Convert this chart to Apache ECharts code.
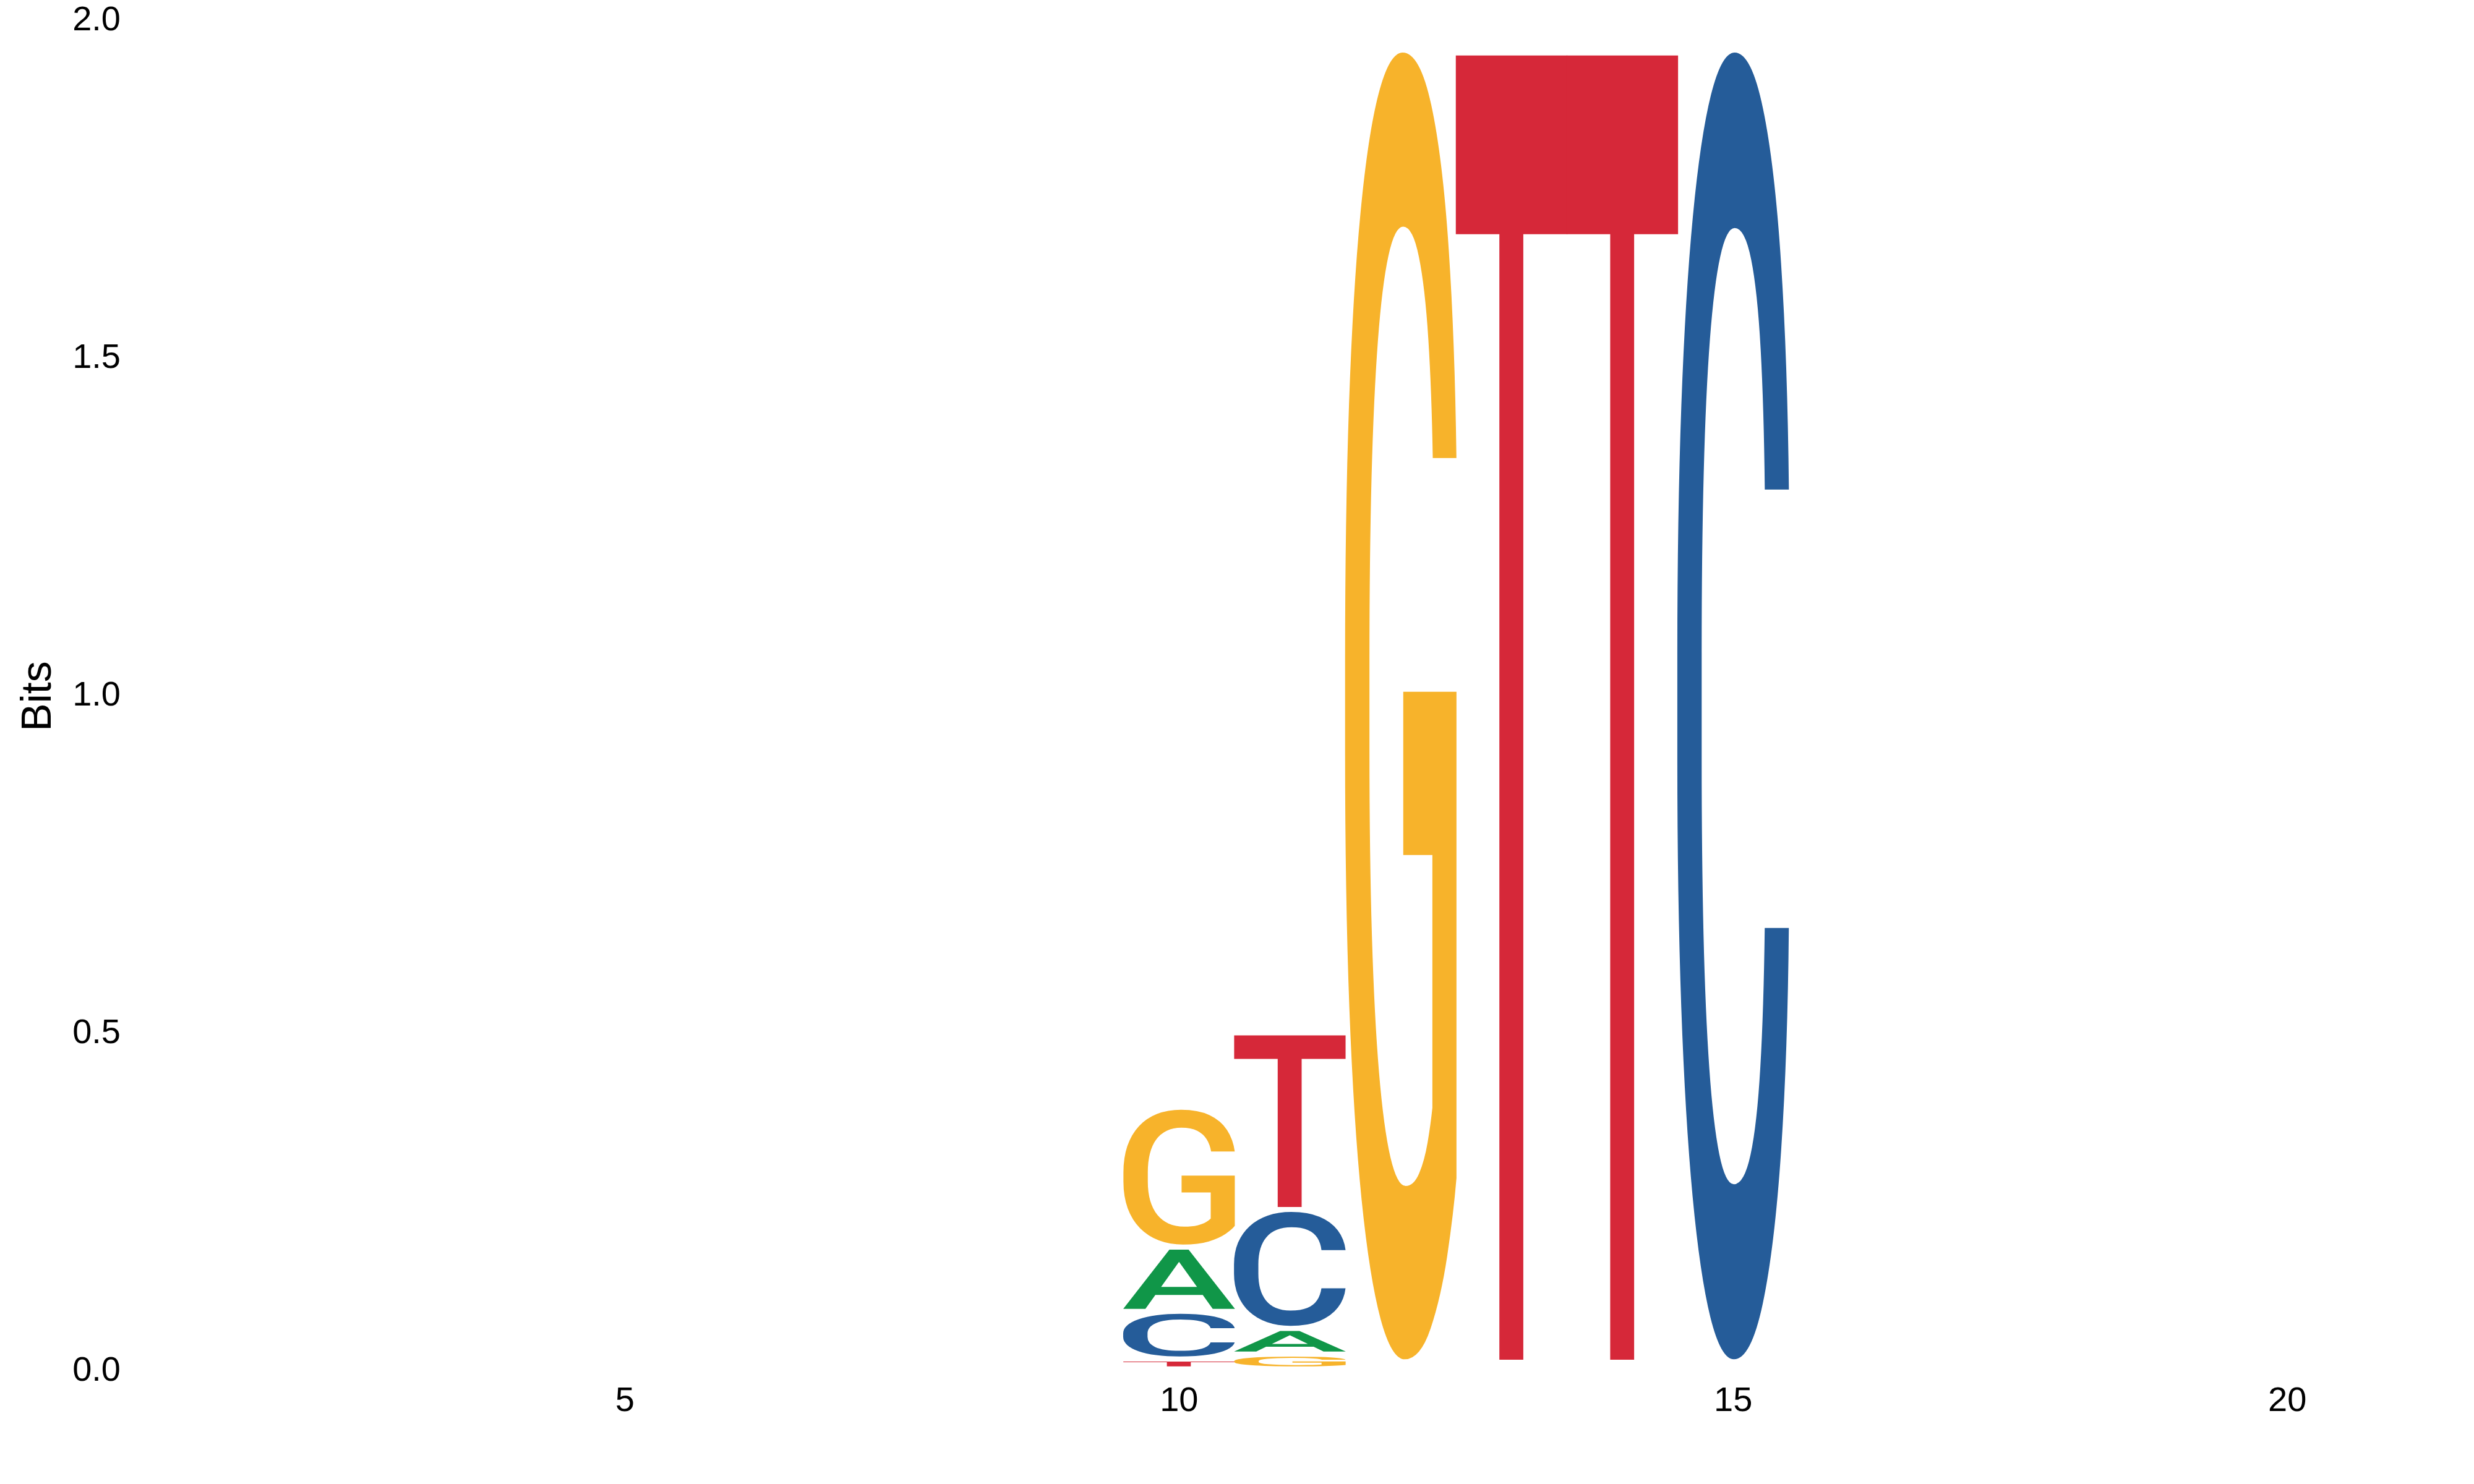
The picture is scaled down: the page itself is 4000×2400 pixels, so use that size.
<!DOCTYPE html>
<html>
<head>
<meta charset="utf-8">
<script src="https://cdn.jsdelivr.net/npm/echarts@6/dist/echarts.min.js"></script>
<style>
  html, body { margin: 0; background: #ffffff; }
  #logo { width: 4000px; height: 2400px; }
</style>
</head>
<body>
<div id="logo"></div>
<script>
// information content (bits) per base, one entry per position
var positions = [10, 11, 12, 13, 14, 15];
var bitsA = [0.0952, 0.038, 0.0033, 0.0033, 0.0033, 0.0033];
var bitsC = [0.0705, 0.176, 0.0033, 0.0033, 0.0033, 1.941];
var bitsG = [0.207, 0.022, 1.941, 0.0033, 0.0033, 0.0033];
var bitsT = [0.0147, 0.262, 0.0033, 1.941, 1.941, 0.0033];
var xTicks = [5, 10, 15, 20];

var bases = ['A', 'C', 'G', 'T'];
var baseColors = ['#109648', '#255C99', '#F7B32B', '#D62839'];
var glyphSize = 600;
var glyphFont = '500 ' + glyphSize + 'px Roboto';
var letterGap = 0.0075; // small white space under each letter, in bits

// ink box of each glyph (found from its pixels), so it can be stretched to fill its cell
function inkBox(ch) {
  var w = glyphSize * 2, h = glyphSize * 2, ox = glyphSize / 2, oy = glyphSize;
  var cv = document.createElement('canvas');
  cv.width = w; cv.height = h;
  var ctx = cv.getContext('2d');
  ctx.font = glyphFont;
  ctx.textAlign = 'left';
  ctx.textBaseline = 'middle';
  ctx.fillStyle = '#000';
  ctx.fillText(ch, ox, oy);
  var px = ctx.getImageData(0, 0, w, h).data;
  var minX = w, maxX = -1, minY = h, maxY = -1;
  for (var y = 0; y < h; y++) {
    for (var x = 0; x < w; x++) {
      if (px[(y * w + x) * 4 + 3] > 127) {
        if (x < minX) minX = x;
        if (x > maxX) maxX = x;
        if (y < minY) minY = y;
        if (y > maxY) maxY = y;
      }
    }
  }
  return { l: ox - minX, r: maxX + 1 - ox, a: oy - minY, d: maxY + 1 - oy };
}
var inkBoxes = bases.map(inkBox);

// stack letters per position, smallest at the bottom
var letters = [];
positions.forEach(function (pos, i) {
  var col = [bitsA[i], bitsC[i], bitsG[i], bitsT[i]].map(function (v, k) {
    return { k: k, v: v };
  });
  col.sort(function (p, q) { return p.v - q.v; });
  var base = 0;
  col.forEach(function (c) {
    letters.push([pos, base, base + c.v, c.k]);
    base += c.v;
  });
});

function renderLetter(params, api) {
  var pos = api.value(0), lo = api.value(1), hi = api.value(2), k = api.value(3);
  var tl = api.coord([pos - 0.5, hi]);
  var br = api.coord([pos + 0.5, lo + letterGap]);
  if (br[1] - tl[1] < 0.5) return;
  // overlap neighbours a little so touching letters leave no seam
  var x0 = tl[0] - 0.6, x1 = br[0] + 0.6;
  var box = inkBoxes[k];
  var sx = (x1 - x0) / (box.l + box.r);
  var sy = (br[1] - tl[1]) / (box.a + box.d);
  return {
    type: 'text',
    x: x0 + box.l * sx,
    y: tl[1] + box.a * sy,
    scaleX: sx,
    scaleY: sy,
    style: {
      text: bases[k],
      font: glyphFont,
      fill: baseColors[k],
      align: 'left',
      verticalAlign: 'middle'
    }
  };
}

var chart = echarts.init(document.getElementById('logo'));
chart.setOption({
  animation: false,
  backgroundColor: '#ffffff',
  grid: { left: 204, right: 33, top: 34, bottom: 182 },
  xAxis: {
    type: 'value',
    min: 0.5,
    max: 21.5,
    axisLine: { show: false },
    axisTick: { show: false },
    splitLine: { show: false },
    axisLabel: {
      customValues: xTicks,
      fontFamily: 'Liberation Sans',
      fontSize: 56,
      color: '#000000',
      margin: 21
    }
  },
  yAxis: {
    type: 'value',
    min: 0,
    max: 2,
    interval: 0.5,
    name: 'Bits',
    nameLocation: 'middle',
    nameGap: 107,
    nameTextStyle: { fontFamily: 'Liberation Sans', fontSize: 68, color: '#000000' },
    axisLine: { show: false },
    axisTick: { show: false },
    splitLine: { show: false },
    axisLabel: {
      fontFamily: 'Liberation Sans',
      fontSize: 56,
      color: '#000000',
      margin: 9,
      padding: [10, 0, 0, 0],
      formatter: function (v) { return v.toFixed(1); }
    }
  },
  series: [{
    type: 'custom',
    renderItem: renderLetter,
    encode: { x: 0, y: [1, 2] },
    data: letters
  }]
});
</script>
</body>
</html>
